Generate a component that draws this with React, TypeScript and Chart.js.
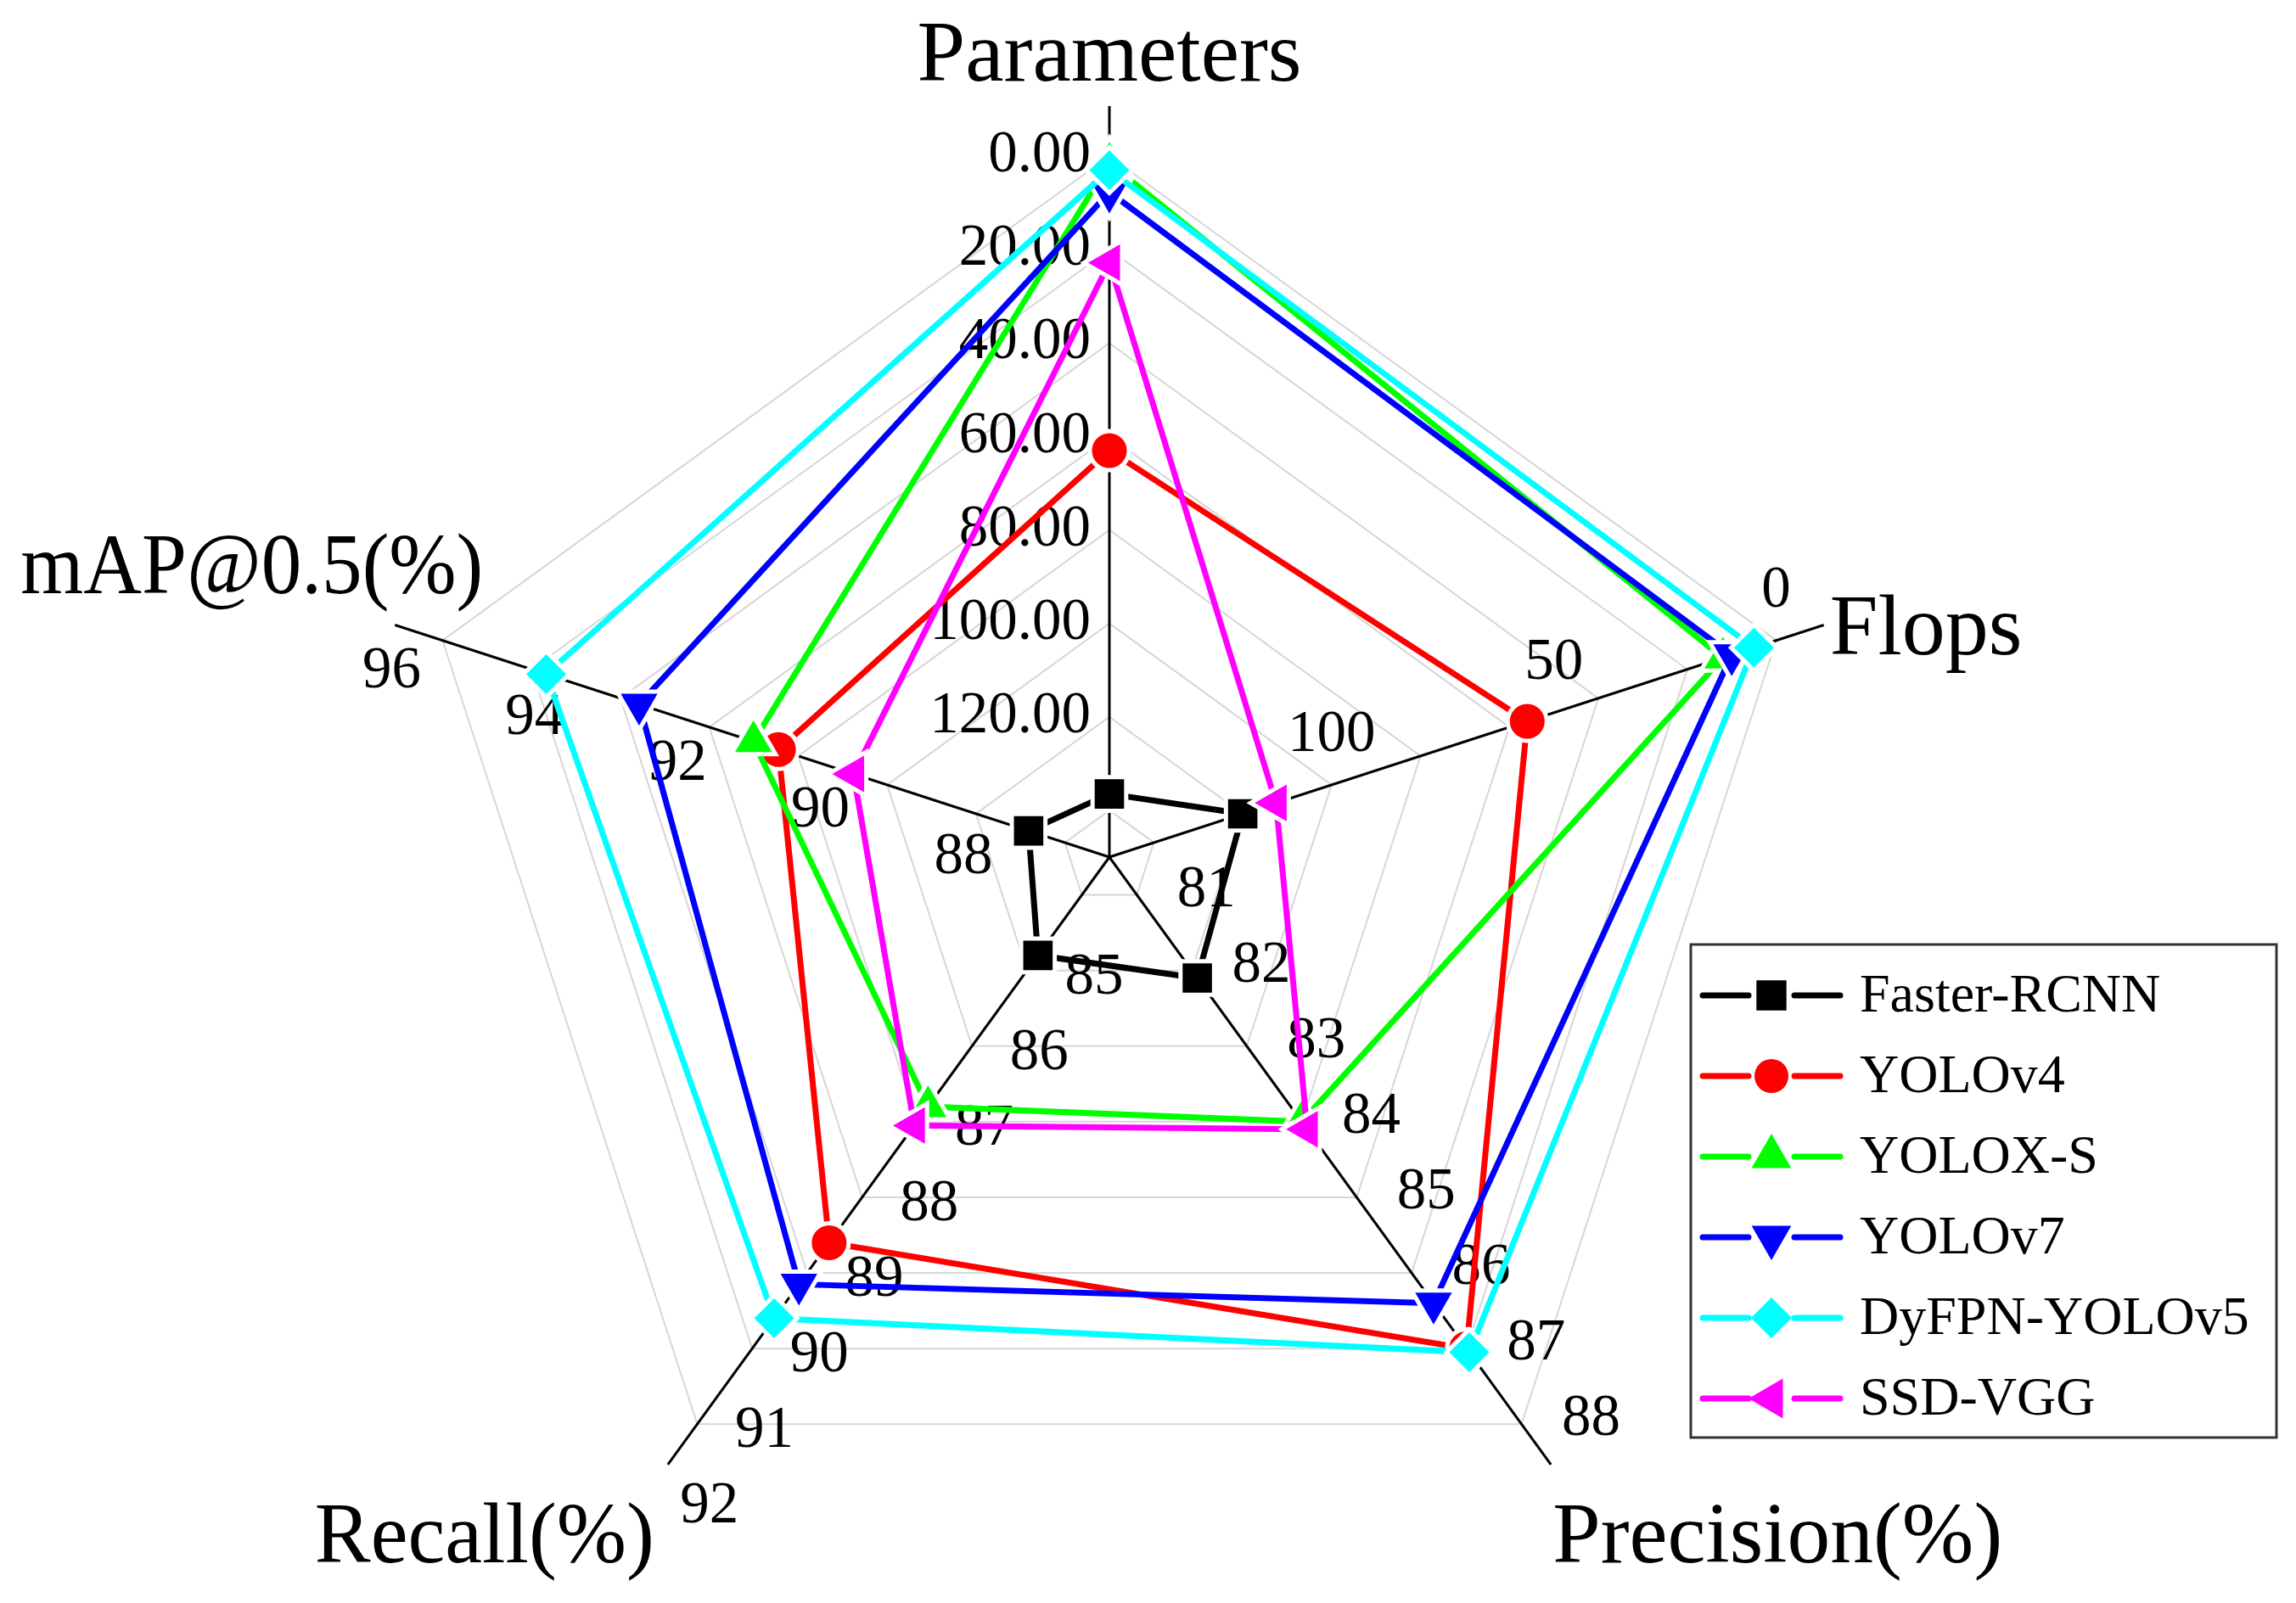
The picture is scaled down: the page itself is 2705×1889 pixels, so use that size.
import React, { useEffect, useRef } from 'react';
import { Chart, registerables } from 'chart.js';
import { drawPoint } from 'chart.js/helpers';

Chart.register(...registerables);

// ---------------- data ----------------
const categories = ['Parameters', 'Flops', 'Precision(%)', 'Recall(%)', 'mAP@0.5(%)'];
const models = ['Faster-RCNN', 'YOLOv4', 'YOLOX-S', 'YOLOv7', 'DyFPN-YOLOv5', 'SSD-VGG'];

const parameters = [136.5, 63, 1.5, 7.7, 3, 22.8];
const flops = [120, 56, 12, 10, 5, 112.5];
const precision = [82.1, 87.0, 84.0, 86.4, 87.05, 84.1];
const recall = [84.8, 88.6, 86.8, 89.15, 89.6, 87.05];
const mapValues = [87.8, 91.3, 91.65, 93.25, 94.55, 90.25];

// each axis has its own scale: value at the centre, value at the outermost ring
const axisCentre = [150, 150, 80.5, 83.5, 86.67];
const axisOuter = [0, 0, 88, 91, 96];

const parameterTicks = [0, 20, 40, 60, 80, 100, 120];
const flopsTicks = [0, 50, 100];
const precisionTicks = [81, 82, 83, 84, 85, 86, 87, 88];
const recallTicks = [85, 86, 87, 88, 89, 90, 91, 92];
const mapTicks = [88, 90, 92, 94, 96];

// rings of the web (fraction of outer ring)
const ringFractions = [0, 0.5, 1.5, 2.5, 3.5, 4.5, 5.5, 6.5, 7.5].map((k) => k / 7.5);

// ---------------- styles ----------------
const colors = ['#000000', '#ff0000', '#00ff00', '#0000ff', '#00ffff', '#ff00ff'];
const pointStyles = ['rect', 'circle', 'triangle', 'triangle', 'rectRot', 'triangle'];
const pointRotations = [0, 0, 0, 180, 0, -90];
const pointRadii = [28, 23, 30, 30, 27, 30];

const W = 2705;
const H = 1889;
const CX = 1307;
const CY = 1010;
const R_OUTER = 826;
const R_AXIS = 885;
const R_MAX = R_AXIS / R_OUTER;
const FONT = '"Liberation Serif", "Times New Roman", serif';

const norm = (axis: number, v: number) =>
  (v - axisCentre[axis]) / (axisOuter[axis] - axisCentre[axis]);

const tickSets = [
  { ticks: parameterTicks, fmt: (t: number) => t.toFixed(2), align: 'right', dx: -22, dy: 0 },
  { ticks: flopsTicks, fmt: (t: number) => String(t), align: 'center', dx: 0, dy: -58 },
  { ticks: precisionTicks, fmt: (t: number) => String(t), align: 'center', dx: 82, dy: -5 },
  { ticks: recallTicks, fmt: (t: number) => String(t), align: 'center', dx: 79, dy: 9 },
  { ticks: mapTicks, fmt: (t: number) => String(t), align: 'center', dx: -60, dy: 37 },
];

const titleOffsets = [
  { align: 'center', dx: 0, dy: -30, maxW: 480 },
  { align: 'left', dx: 7, dy: 34, maxW: 240 },
  { align: 'left', dx: 2, dy: 115, maxW: 530 },
  { align: 'right', dx: -16, dy: 115, maxW: 400 },
  { align: 'right', dx: 104, dy: -38, maxW: 545 },
];

const axisDecor = {
  id: 'axisDecor',
  beforeDatasetsDraw(chart: any) {
    const scale = chart.scales.r;
    const ctx = chart.ctx;
    ctx.save();
    ctx.fillStyle = '#000';
    ctx.textBaseline = 'middle';
    ctx.font = `69px ${FONT}`;
    tickSets.forEach((set, i) => {
      set.ticks.forEach((t) => {
        const p = scale.getPointPositionForValue(i, norm(i, t));
        ctx.textAlign = set.align;
        ctx.fillText(set.fmt(t), p.x + set.dx, p.y + set.dy);
      });
    });
    ctx.restore();
  },
  afterDraw(chart: any) {
    const scale = chart.scales.r;
    const ctx = chart.ctx;
    ctx.save();
    // axis titles
    ctx.fillStyle = '#000';
    ctx.textBaseline = 'alphabetic';
    ctx.font = `102px ${FONT}`;
    categories.forEach((c, i) => {
      const p = scale.getPointPosition(i, scale.drawingArea);
      ctx.textAlign = titleOffsets[i].align;
      ctx.fillText(c, p.x + titleOffsets[i].dx, p.y + titleOffsets[i].dy, titleOffsets[i].maxW);
    });

    // legend
    const bx = 1992, by = 1113, bw = 690, bh = 581;
    ctx.strokeStyle = '#333';
    ctx.lineWidth = 3;
    ctx.strokeRect(bx, by, bw, bh);
    ctx.font = `64px ${FONT}`;
    ctx.textAlign = 'left';
    ctx.textBaseline = 'middle';
    models.forEach((m, i) => {
      const y = 1173 + i * 95;
      ctx.strokeStyle = colors[i];
      ctx.lineWidth = 7;
      ctx.lineCap = 'round';
      ctx.beginPath();
      ctx.moveTo(2006, y);
      ctx.lineTo(2060, y);
      ctx.moveTo(2114, y);
      ctx.lineTo(2168, y);
      ctx.stroke();
      ctx.fillStyle = colors[i];
      drawPoint(ctx, {
        pointStyle: pointStyles[i],
        rotation: pointRotations[i],
        radius: pointRadii[i] - 3,
        borderWidth: 0,
      }, 2087, y);
      ctx.fillStyle = '#000';
      ctx.fillText(m, 2191, y + 2);
    });
    ctx.restore();
  },
};

const whiteBg = {
  id: 'whiteBg',
  beforeDraw(chart: any) {
    const ctx = chart.ctx;
    ctx.save();
    ctx.fillStyle = '#fff';
    ctx.fillRect(0, 0, chart.width, chart.height);
    ctx.restore();
  },
};

export default function App() {
  const ref = useRef<HTMLCanvasElement>(null);

  useEffect(() => {
    const datasets = models.map((m, i) => ({
      label: m,
      data: [
        norm(0, parameters[i]),
        norm(1, flops[i]),
        norm(2, precision[i]),
        norm(3, recall[i]),
        norm(4, mapValues[i]),
      ],
      borderColor: colors[i],
      backgroundColor: colors[i],
      borderWidth: 7,
      fill: false,
      tension: 0,
      pointStyle: pointStyles[i],
      pointRotation: pointRotations[i],
      pointRadius: pointRadii[i],
      pointBackgroundColor: colors[i],
      pointBorderColor: '#ffffff',
      pointBorderWidth: 5,
      order: models.length - i,
    }));

    const chart = new Chart(ref.current as HTMLCanvasElement, {
      type: 'radar',
      data: { labels: categories, datasets },
      options: {
        responsive: false,
        animation: false,
        devicePixelRatio: 1,
        layout: { padding: 0 },
        plugins: {
          legend: { display: false },
          tooltip: { enabled: false },
        },
        scales: {
          r: {
            min: 0,
            max: R_MAX,
            ticks: { display: false },
            pointLabels: { display: false },
            grid: { color: '#d6d6d6', lineWidth: 2 },
            angleLines: { color: '#000000', lineWidth: 3 },
            afterBuildTicks: (scale: any) => {
              scale.ticks = ringFractions.map((v) => ({ value: v }));
            },
            afterFit: (scale: any) => {
              scale.xCenter = CX;
              scale.yCenter = CY;
              scale.drawingArea = R_AXIS;
            },
          },
        },
      } as any,
      plugins: [whiteBg, axisDecor],
    });
    return () => chart.destroy();
  }, []);

  return (
    <div style={{ position: 'fixed', left: 0, top: 0, width: W, height: H, background: '#fff' }}>
      <canvas ref={ref} width={W} height={H} style={{ display: 'block', width: W, height: H }} />
    </div>
  );
}
